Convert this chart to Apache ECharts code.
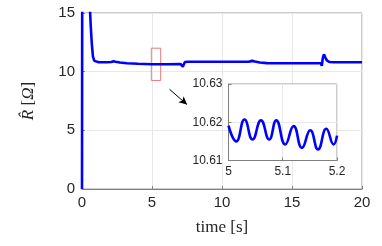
<!DOCTYPE html>
<html>
<head>
<meta charset="utf-8">
<script src="https://cdn.jsdelivr.net/npm/echarts@6/dist/echarts.min.js"></script>
<style>html,body{margin:0;padding:0;background:#fff}#c{width:382px;height:246px}</style>
</head>
<body>
<div id="c"></div>
<script>
// Main trace: time [s] and R-hat [Ohm]
var mainT = [0, 0.03, 0.035, 0.45, 0.55, 0.62, 0.7, 0.78, 0.88, 1.0, 1.2, 1.8, 2.1, 2.25, 2.4, 2.7, 3.2, 4.0, 5.0, 6.0, 7.05, 7.15, 7.2, 7.26, 7.35, 7.6, 9.0, 11.0, 11.9, 12.15, 12.35, 12.7, 13.2, 14.5, 16.0, 17.05, 17.13, 17.2, 17.28, 17.38, 17.5, 17.7, 18.0, 19.0, 20.0];
var mainR = [0, 0, 40, 40, 15.8, 14, 12.4, 11.3, 10.92, 10.83, 10.8, 10.8, 10.82, 10.88, 10.84, 10.78, 10.72, 10.67, 10.63, 10.63, 10.64, 10.55, 10.42, 10.5, 10.82, 10.85, 10.85, 10.85, 10.85, 10.92, 10.86, 10.78, 10.73, 10.72, 10.72, 10.72, 10.5, 11.15, 11.48, 11.2, 10.95, 10.82, 10.8, 10.8, 10.8];

// Inset trace (zoom on 5 to 5.2 s)
var insetT = [5.0, 5.0142, 5.0295, 5.0443, 5.0598, 5.075, 5.088, 5.1046, 5.12, 5.1354, 5.1507, 5.165, 5.1803, 5.1937, 5.2];
var insetR = [10.6191, 10.6150, 10.6207, 10.6155, 10.6205, 10.6155, 10.6205, 10.6142, 10.6190, 10.6133, 10.6179, 10.6129, 10.6183, 10.6142, 10.6165];

var mainXTicks = [0, 20, 5];
var mainYTicks = [0, 15, 5];
var insetXTicks = [5.0, 5.2, 0.1];
var insetYTicks = [10.61, 10.63, 0.01];

// Zoom box and arrow annotation (data coordinates)
var zoomBox = [[4.95, 12.0], [5.62, 9.25]];
var arrowLine = [[6.25, 8.5], [7.5, 7.2]];

function zip(a, b) { return a.map(function (v, i) { return [v, b[i]]; }); }

var tickFont = { fontFamily: 'Liberation Sans', fontSize: 15, color: '#262626' };
var insetFont = { fontFamily: 'Liberation Sans', fontSize: 12, color: '#262626' };

var chart = echarts.init(document.getElementById('c'), null, { renderer: 'canvas' });
chart.setOption({
  animation: false,
  backgroundColor: '#fff',
  grid: [
    { left: 82, right: 20, top: 13, bottom: 57, show: true, borderColor: '#9a9a9a', borderWidth: 1, z: 0 },
    { left: 228.5, top: 84, width: 108.5, height: 76.5, show: true, backgroundColor: '#fff', borderColor: '#9a9a9a', borderWidth: 1, z: 5 }
  ],
  xAxis: [
    {
      gridIndex: 0, type: 'value', min: mainXTicks[0], max: mainXTicks[1], interval: mainXTicks[2],
      axisLine: { show: true, lineStyle: { color: '#808080' } },
      axisTick: { show: true, inside: true, length: 3, lineStyle: { color: '#808080' } },
      splitLine: { show: true, lineStyle: { color: '#e8e8e8' } },
      axisLabel: Object.assign({ margin: 6 }, tickFont),
      name: 'time [s]', nameLocation: 'middle', nameGap: 30,
      nameTextStyle: { fontFamily: 'Liberation Serif', fontSize: 17, color: '#262626' }
    },
    {
      gridIndex: 1, type: 'value', min: insetXTicks[0], max: insetXTicks[1], interval: insetXTicks[2], z: 6,
      axisLine: { show: true, lineStyle: { color: '#808080' } },
      axisTick: { show: true, inside: true, length: 3, lineStyle: { color: '#808080' } },
      splitLine: { show: true, lineStyle: { color: '#e8e8e8' } },
      axisLabel: Object.assign({ margin: 5, formatter: function (v) { return v === 5 ? '5' : v.toFixed(1); } }, insetFont)
    }
  ],
  yAxis: [
    {
      gridIndex: 0, type: 'value', min: mainYTicks[0], max: mainYTicks[1], interval: mainYTicks[2],
      axisLine: { show: true, lineStyle: { color: '#808080' } },
      axisTick: { show: true, inside: true, length: 3, lineStyle: { color: '#808080' } },
      splitLine: { show: true, lineStyle: { color: '#e8e8e8' } },
      axisLabel: Object.assign({ margin: 7 }, tickFont),
      name: '{i|R\u0302} [{i|\u03A9}]', nameLocation: 'middle', nameGap: 45,
      nameTextStyle: {
        fontFamily: 'Liberation Serif', fontSize: 17, color: '#262626',
        rich: { i: { fontFamily: 'Liberation Serif', fontSize: 17, fontStyle: 'italic', color: '#262626' } }
      }
    },
    {
      gridIndex: 1, type: 'value', min: insetYTicks[0], max: insetYTicks[1], interval: insetYTicks[2], z: 6,
      axisLine: { show: true, lineStyle: { color: '#808080' } },
      axisTick: { show: true, inside: true, length: 3, lineStyle: { color: '#808080' } },
      splitLine: { show: true, lineStyle: { color: '#e8e8e8' } },
      axisLabel: Object.assign({ margin: 6, formatter: function (v) { return v.toFixed(2); } }, insetFont)
    }
  ],
  series: [
    {
      type: 'line', xAxisIndex: 0, yAxisIndex: 0, data: zip(mainT, mainR),
      showSymbol: false, smooth: false, clip: true,
      lineStyle: { color: '#0000ff', width: 2.6 },
      z: 2,
      markArea: {
        silent: true,
        itemStyle: { color: 'rgba(0,0,0,0)', borderColor: '#f07878', borderWidth: 1 },
        data: [[{ coord: zoomBox[0] }, { coord: zoomBox[1] }]]
      },
      markLine: {
        silent: true, symbol: ['none', 'arrow'], symbolSize: [6, 8],
        label: { show: false },
        lineStyle: { color: '#000', width: 1, type: 'solid' },
        data: [[{ coord: arrowLine[0] }, { coord: arrowLine[1] }]]
      }
    },
    {
      type: 'line', xAxisIndex: 1, yAxisIndex: 1, data: zip(insetT, insetR),
      showSymbol: false, smooth: 0.5, clip: true,
      lineStyle: { color: '#0000ff', width: 2.6 },
      z: 7
    }
  ]
});
</script>
</body>
</html>
